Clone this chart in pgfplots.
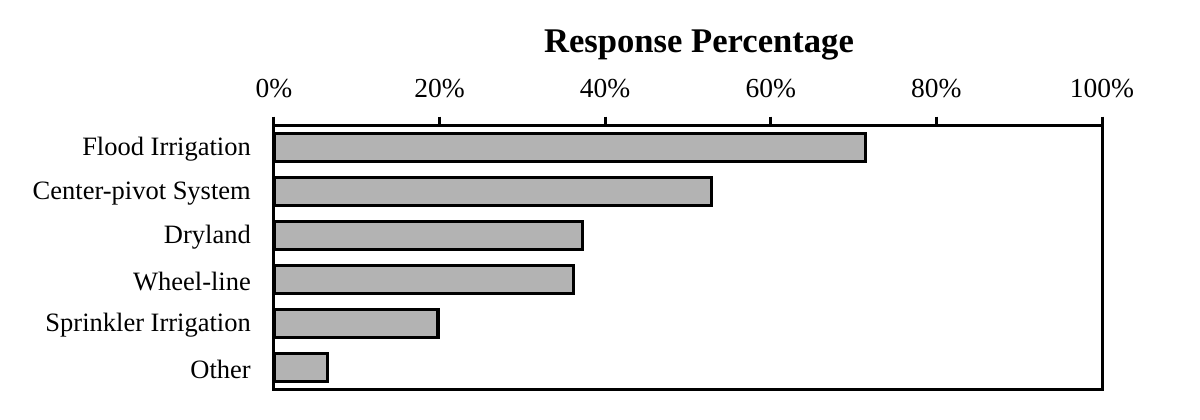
\documentclass[border=0pt]{standalone}
\usepackage{pgfplots}
\pgfplotsset{compat=1.18}
\usepackage{fontspec}
\setmainfont{Liberation Serif}
\definecolor{barfill}{RGB}{179,179,179}
\begin{document}
\begin{tikzpicture}[x=1pt,y=1pt]
\path[use as bounding box] (0,0) rectangle (1200,420);
\begin{axis}[
  at={(274pt,30.5pt)}, anchor=south west,
  scale only axis, width=828pt, height=264pt,
  xbar, bar width=28pt,
  xmin=0, xmax=100, ymin=-0.5, ymax=5.5, y dir=reverse,
  axis line style={line width=3pt, line cap=rect},
  xtick={0,20,40,60,80,100},
  xticklabels={0\%,20\%,40\%,60\%,80\%,100\%},
  xticklabel pos=upper,
  xtick pos=upper,
  xtick align=outside,
  major tick length=9pt,
  xtick style={line width=3pt, black},
  xticklabel style={font=\fontsize{27.5}{30}\selectfont, anchor=base, inner sep=0pt, yshift=19pt},
  ytick={0,1,2,3,4,5},
  yticklabels={Flood Irrigation,Center-pivot System,Dryland,Wheel-line,Sprinkler Irrigation,Other},
  ytick style={draw=none},
  yticklabel style={font=\fontsize{26.5}{30}\selectfont, anchor=east, inner sep=0pt, xshift=-14pt, yshift=-2pt},
  clip=false,
]
\addplot[fill=barfill, draw=black, line width=3.3pt] coordinates {(71.4,0) (52.8,1) (37.3,2) (36.2,3) (19.8,4) (6.5,5)};
\end{axis}
\node[font=\bfseries\fontsize{34.6}{38}\selectfont, anchor=base] at (699,367) {Response Percentage};
\end{tikzpicture}
\end{document}
